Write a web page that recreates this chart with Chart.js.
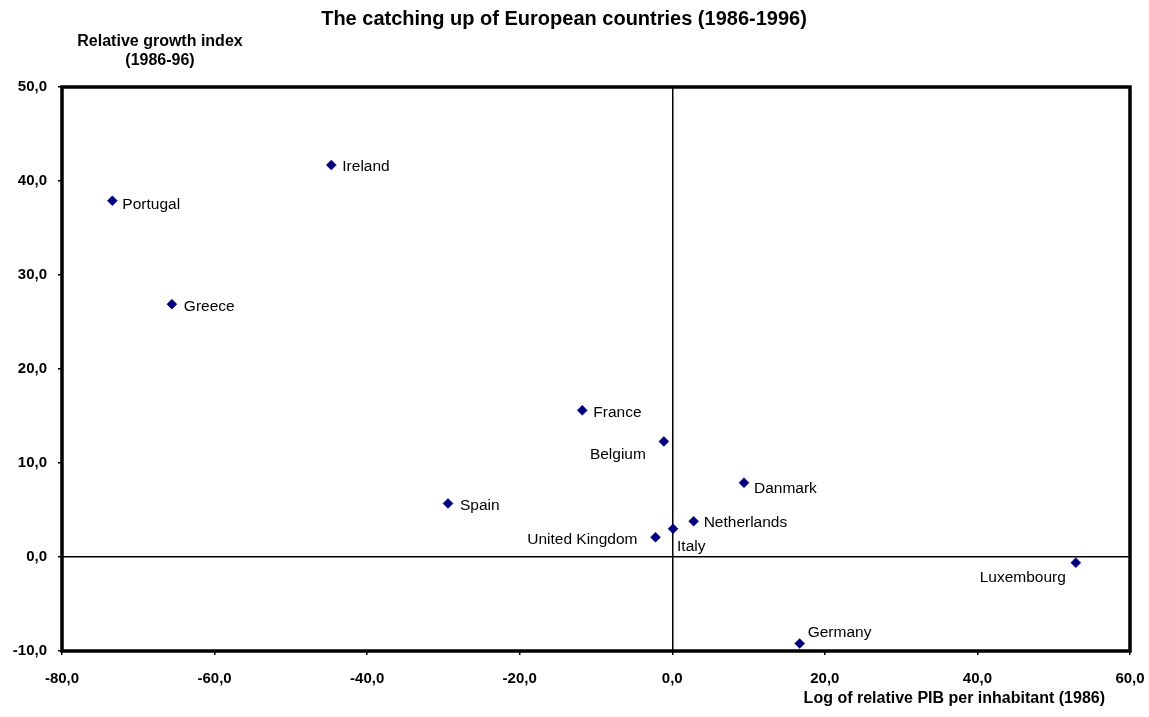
<!DOCTYPE html>
<html>
<head>
<meta charset="utf-8">
<script src="https://cdn.jsdelivr.net/npm/chart.js@4.4.0/dist/chart.umd.min.js"></script>
<style>
  html, body { margin: 0; padding: 0; background: #fff; }
  #wrap { width: 1149px; height: 717px; position: relative; }
</style>
</head>
<body>
<div id="wrap"><canvas id="chart"></canvas></div>
<script>
// Données
const countries = ['Portugal', 'Ireland', 'Greece', 'France', 'Belgium', 'Spain',
    'Danmark', 'Netherlands', 'Italy', 'United Kingdom', 'Luxembourg', 'Germany'];
const logPib = [-73.4, -44.7, -65.6, -11.8, -1.1, -29.4, 9.4, 2.8, 0.1, -2.2, 52.9, 16.7];
const growthIndex = [37.9, 41.7, 26.9, 15.6, 12.3, 5.7, 7.9, 3.8, 3.0, 2.1, -0.6, -9.2];

const xTicks = [-80, -60, -40, -20, 0, 20, 40, 60];
const yTicks = [-10, 0, 10, 20, 30, 40, 50];

// Placement des étiquettes (décalage en pixels depuis le point)
const labelPlacement = {
    'Portugal':       { dx: 10, dy: 4, align: 'left' },
    'Ireland':        { dx: 11, dy: 2, align: 'left' },
    'Greece':         { dx: 12, dy: 3, align: 'left' },
    'France':         { dx: 11, dy: 2, align: 'left' },
    'Belgium':        { dx: -18, dy: 13, align: 'right' },
    'Spain':          { dx: 12, dy: 2, align: 'left' },
    'Danmark':        { dx: 10, dy: 6, align: 'left' },
    'Netherlands':    { dx: 10, dy: 1, align: 'left' },
    'Italy':          { dx: 4, dy: 18, align: 'left' },
    'United Kingdom': { dx: -18, dy: 2, align: 'right' },
    'Luxembourg':     { dx: -10, dy: 15, align: 'right' },
    'Germany':        { dx: 8, dy: -11, align: 'left' }
};

const FONT = '"Liberation Sans", Arial, sans-serif';
const fmt = v => v.toFixed(1).replace('.', ',');

// Étiquettes, titres et cadre
const decorPlugin = {
    id: 'decor',
    afterDatasetsDraw(chart) {
        const { ctx, chartArea: a, scales: { x, y } } = chart;
        ctx.save();

        // cadre épais
        ctx.strokeStyle = '#000';
        ctx.lineWidth = 3.5;
        ctx.strokeRect(a.left, a.top, a.right - a.left, a.bottom - a.top);

        // noms des pays
        ctx.fillStyle = '#000';
        ctx.font = '15.5px ' + FONT;
        ctx.textBaseline = 'middle';
        countries.forEach((name, i) => {
            const p = labelPlacement[name];
            ctx.textAlign = p.align;
            ctx.fillText(name, x.getPixelForValue(logPib[i]) + p.dx, y.getPixelForValue(growthIndex[i]) + p.dy);
        });

        // titre principal
        ctx.textAlign = 'center';
        ctx.font = 'bold 20px ' + FONT;
        ctx.fillText('The catching up of European countries (1986-1996)', 564, 19);

        // titre axe Y
        ctx.font = 'bold 16px ' + FONT;
        ctx.fillText('Relative growth index', 160, 42);
        ctx.fillText('(1986-96)', 160, 61);

        // titre axe X
        ctx.textAlign = 'right';
        ctx.fillText('Log of relative PIB per inhabitant (1986)', 1105, 699);

        ctx.restore();
    }
};

new Chart(document.getElementById('chart'), {
    type: 'scatter',
    data: {
        datasets: [{
            label: 'Countries',
            data: logPib.map((v, i) => ({ x: v, y: growthIndex[i] })),
            pointStyle: 'rectRot',
            pointRadius: 5,
            pointBackgroundColor: '#000080',
            pointBorderColor: '#000080',
            pointBorderWidth: 0.5
        }]
    },
    options: {
        responsive: true,
        maintainAspectRatio: false,
        animation: false,
        layout: { padding: { top: 87, right: 19, left: 0, bottom: 0 } },
        plugins: {
            legend: { display: false },
            tooltip: { enabled: false }
        },
        scales: {
            x: {
                type: 'linear',
                min: -80,
                max: 60,
                afterBuildTicks: s => { s.ticks = xTicks.map(v => ({ value: v })); },
                afterFit: s => { s.height = 66; s.paddingLeft = 0; s.paddingRight = 0; },
                ticks: {
                    color: '#000',
                    font: { family: FONT, size: 15, weight: 'bold' },
                    padding: 15,
                    maxRotation: 0,
                    callback: v => fmt(v)
                },
                grid: {
                    color: c => (c.tick && c.tick.value === 0 ? '#000' : 'transparent'),
                    tickColor: '#000',
                    tickLength: 4,
                    lineWidth: 1.5
                },
                border: { display: false }
            },
            y: {
                type: 'linear',
                min: -10,
                max: 50,
                afterBuildTicks: s => { s.ticks = yTicks.map(v => ({ value: v })); },
                afterFit: s => { s.width = 62; s.paddingTop = 0; s.paddingBottom = 0; },
                ticks: {
                    color: '#000',
                    font: { family: FONT, size: 15, weight: 'bold' },
                    padding: 11,
                    callback: v => fmt(v)
                },
                grid: {
                    color: c => (c.tick && c.tick.value === 0 ? '#000' : 'transparent'),
                    tickColor: '#000',
                    tickLength: 4,
                    lineWidth: 1.5
                },
                border: { display: false }
            }
        }
    },
    plugins: [decorPlugin]
});
</script>
</body>
</html>
